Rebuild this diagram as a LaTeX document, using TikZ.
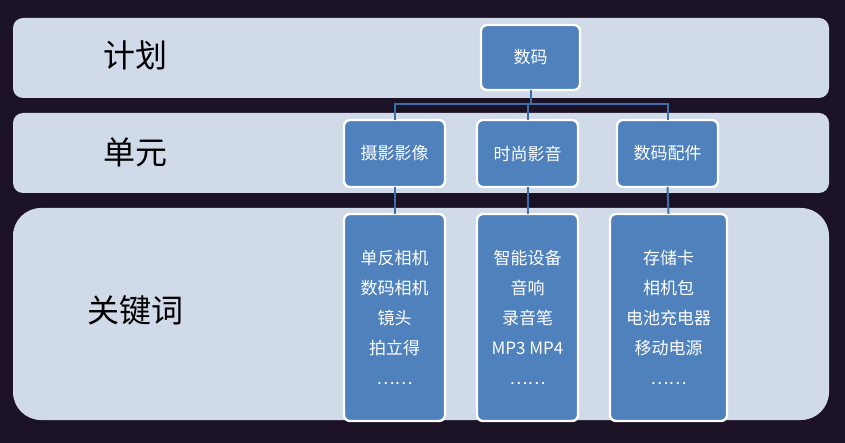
\documentclass[tikz,border=0pt]{standalone}
\usepackage{fontspec}
\setmainfont{Noto Sans CJK SC}
\begin{document}
\begin{tikzpicture}[x=0.5pt,y=-0.5pt,
  band/.style={fill=bandc,draw=none},
  bx/.style={fill=boxc,draw=white,line width=1.2pt,rounded corners=3pt},
  lbl/.style={font=\fontsize{16}{18}\selectfont,text=black},
  txt/.style={text=white,font=\fontsize{8.5}{15}\selectfont,align=center},
  con/.style={draw=linec,line width=1pt}]
\definecolor{bandc}{HTML}{D0DAE8}
\definecolor{boxc}{HTML}{4F81BD}
\definecolor{linec}{HTML}{3E6FA8}
\definecolor{bgc}{HTML}{1C1226}
\fill[bgc] (0,0) rectangle (845,443);
\useasboundingbox (0,0) rectangle (845,443);
\fill[band,rounded corners=5pt] (13,18) rectangle (829,98);
\fill[band,rounded corners=5pt] (13,113) rectangle (829,193);
\fill[band,rounded corners=14pt] (13,208) rectangle (829,420);
\node[lbl] (l1) at (135,55) {计划};
\node[lbl] (l2) at (135,152) {单元};
\node[lbl] (l3) at (135,310) {关键词};
\path[bx] (481,25) rectangle (580,90);
\node[txt] (top) at (530.5,57.5) {数码};
\coordinate (topb) at (530.5,90);
\path[bx] (344,120) rectangle (445,187);
\path[bx] (477,120) rectangle (578,187);
\path[bx] (617,120) rectangle (718,187);
\node[txt] (m1) at (394.5,153.5) {摄影影像};
\node[txt] (m2) at (527.5,153.5) {时尚影音};
\node[txt] (m3) at (667.5,153.5) {数码配件};
\coordinate (m1t) at (394.5,120); \coordinate (m2t) at (527.5,120); \coordinate (m3t) at (667.5,120);
\coordinate (m1b) at (394.5,187); \coordinate (m2b) at (527.5,187); \coordinate (m3b) at (667.5,187);
\path[bx] (344,214) rectangle (445,421);
\path[bx] (477,214) rectangle (578,421);
\path[bx] (610,214) rectangle (727,421);
\coordinate (b1t) at (394.5,214); \coordinate (b2t) at (527.5,214); \coordinate (b3t) at (668.5,214);
\node[txt,anchor=north] (b1) at (394.5,243) {单反相机\\数码相机\\镜头\\拍立得\\……};
\node[txt,anchor=north] (b2) at (527.5,243) {智能设备\\音响\\录音笔\\MP3 MP4\\……};
\node[txt,anchor=north] (b3) at (668.5,243) {存储卡\\相机包\\电池充电器\\移动电源\\……};
\draw[con] (topb) -- (530.5,104);
\draw[con] (m1t) |- (m3t|-0,104) -- (m3t);
\draw[con] (m2t) -- (527.5,104);
\draw[con] (m1b) -- (b1t);
\draw[con] (m2b) -- (b2t);
\draw[con] (m3b) -- (b3t);
\end{tikzpicture}
\end{document}
